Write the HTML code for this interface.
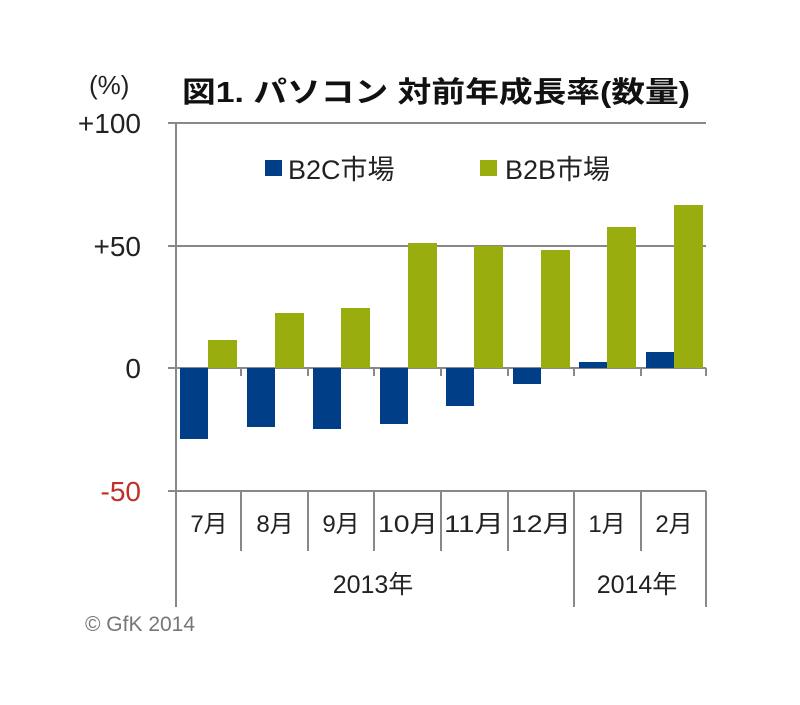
<!DOCTYPE html>
<html><head><meta charset="utf-8"><style>
html,body{margin:0;padding:0;background:#fff;}
svg text{font-family:"Liberation Sans","Noto Sans CJK JP",sans-serif;}
</style></head><body>
<svg width="800" height="700" xmlns="http://www.w3.org/2000/svg">
<rect width="800" height="700" fill="#fff"/>
<text x="89" y="94" font-size="26" fill="#222">(%)</text>
<text x="182" y="102" font-size="29" font-weight="bold" fill="#111" textLength="508" lengthAdjust="spacingAndGlyphs">図1. パソコン 対前年成長率(数量)</text>
<g stroke="#888" stroke-width="2" fill="none">
<line x1="168" y1="123" x2="706" y2="123"/>
<line x1="168" y1="246" x2="706" y2="246"/>
<line x1="168" y1="368" x2="706" y2="368"/>
<line x1="168" y1="491" x2="706" y2="491"/>
<line x1="176" y1="123" x2="176" y2="607"/>
<line x1="574" y1="491" x2="574" y2="607"/>
<line x1="706" y1="491" x2="706" y2="607"/>
<line x1="241" y1="491" x2="241" y2="551"/>
<line x1="308" y1="491" x2="308" y2="551"/>
<line x1="374" y1="491" x2="374" y2="551"/>
<line x1="441" y1="491" x2="441" y2="551"/>
<line x1="508" y1="491" x2="508" y2="551"/>
<line x1="641" y1="491" x2="641" y2="551"/>
<line x1="241" y1="368" x2="241" y2="376"/>
<line x1="308" y1="368" x2="308" y2="376"/>
<line x1="374" y1="368" x2="374" y2="376"/>
<line x1="441" y1="368" x2="441" y2="376"/>
<line x1="508" y1="368" x2="508" y2="376"/>
<line x1="574" y1="368" x2="574" y2="376"/>
<line x1="641" y1="368" x2="641" y2="376"/>
<line x1="706" y1="368" x2="706" y2="376"/>
</g>
<g font-size="28" fill="#222" text-anchor="end">
<text x="141" y="133">+100</text>
<text x="141" y="256">+50</text>
<text x="141" y="378">0</text>
<text x="141" y="501" fill="#c0302a">-50</text>
</g>
<g fill="#003f87">
<rect x="180" y="368" width="28" height="71"/>
<rect x="247" y="368" width="28" height="59"/>
<rect x="313" y="368" width="28" height="61"/>
<rect x="380" y="368" width="28" height="56"/>
<rect x="446" y="368" width="28" height="38"/>
<rect x="513" y="368" width="28" height="16"/>
<rect x="579" y="362" width="28" height="6"/>
<rect x="646" y="352" width="28" height="16"/>
<rect x="265" y="160" width="17" height="16"/>
</g>
<g fill="#9aad0f">
<rect x="208" y="340" width="29" height="28"/>
<rect x="275" y="313" width="29" height="55"/>
<rect x="341" y="308" width="29" height="60"/>
<rect x="408" y="243" width="29" height="125"/>
<rect x="474" y="246" width="29" height="122"/>
<rect x="541" y="250" width="29" height="118"/>
<rect x="607" y="227" width="29" height="141"/>
<rect x="674" y="205" width="29" height="163"/>
<rect x="480" y="160" width="17" height="16"/>
</g>
<g font-size="27" fill="#222">
<text x="288" y="179">B2C市場</text>
<text x="505" y="179">B2B市場</text>
</g>
<g font-size="24" fill="#222" text-anchor="middle">
<text x="209" y="532">7月</text>
<text x="275" y="532">8月</text>
<text x="341" y="532">9月</text>
<text x="408" y="532" textLength="60" lengthAdjust="spacingAndGlyphs">10月</text>
<text x="474" y="532" textLength="60" lengthAdjust="spacingAndGlyphs">11月</text>
<text x="541" y="532" textLength="60" lengthAdjust="spacingAndGlyphs">12月</text>
<text x="607" y="532">1月</text>
<text x="674" y="532">2月</text>
<text x="373" y="593" font-size="25">2013年</text>
<text x="637" y="593" font-size="25">2014年</text>
</g>
<text x="85" y="631" font-size="21" fill="#777">© GfK 2014</text>
</svg>
</body></html>
